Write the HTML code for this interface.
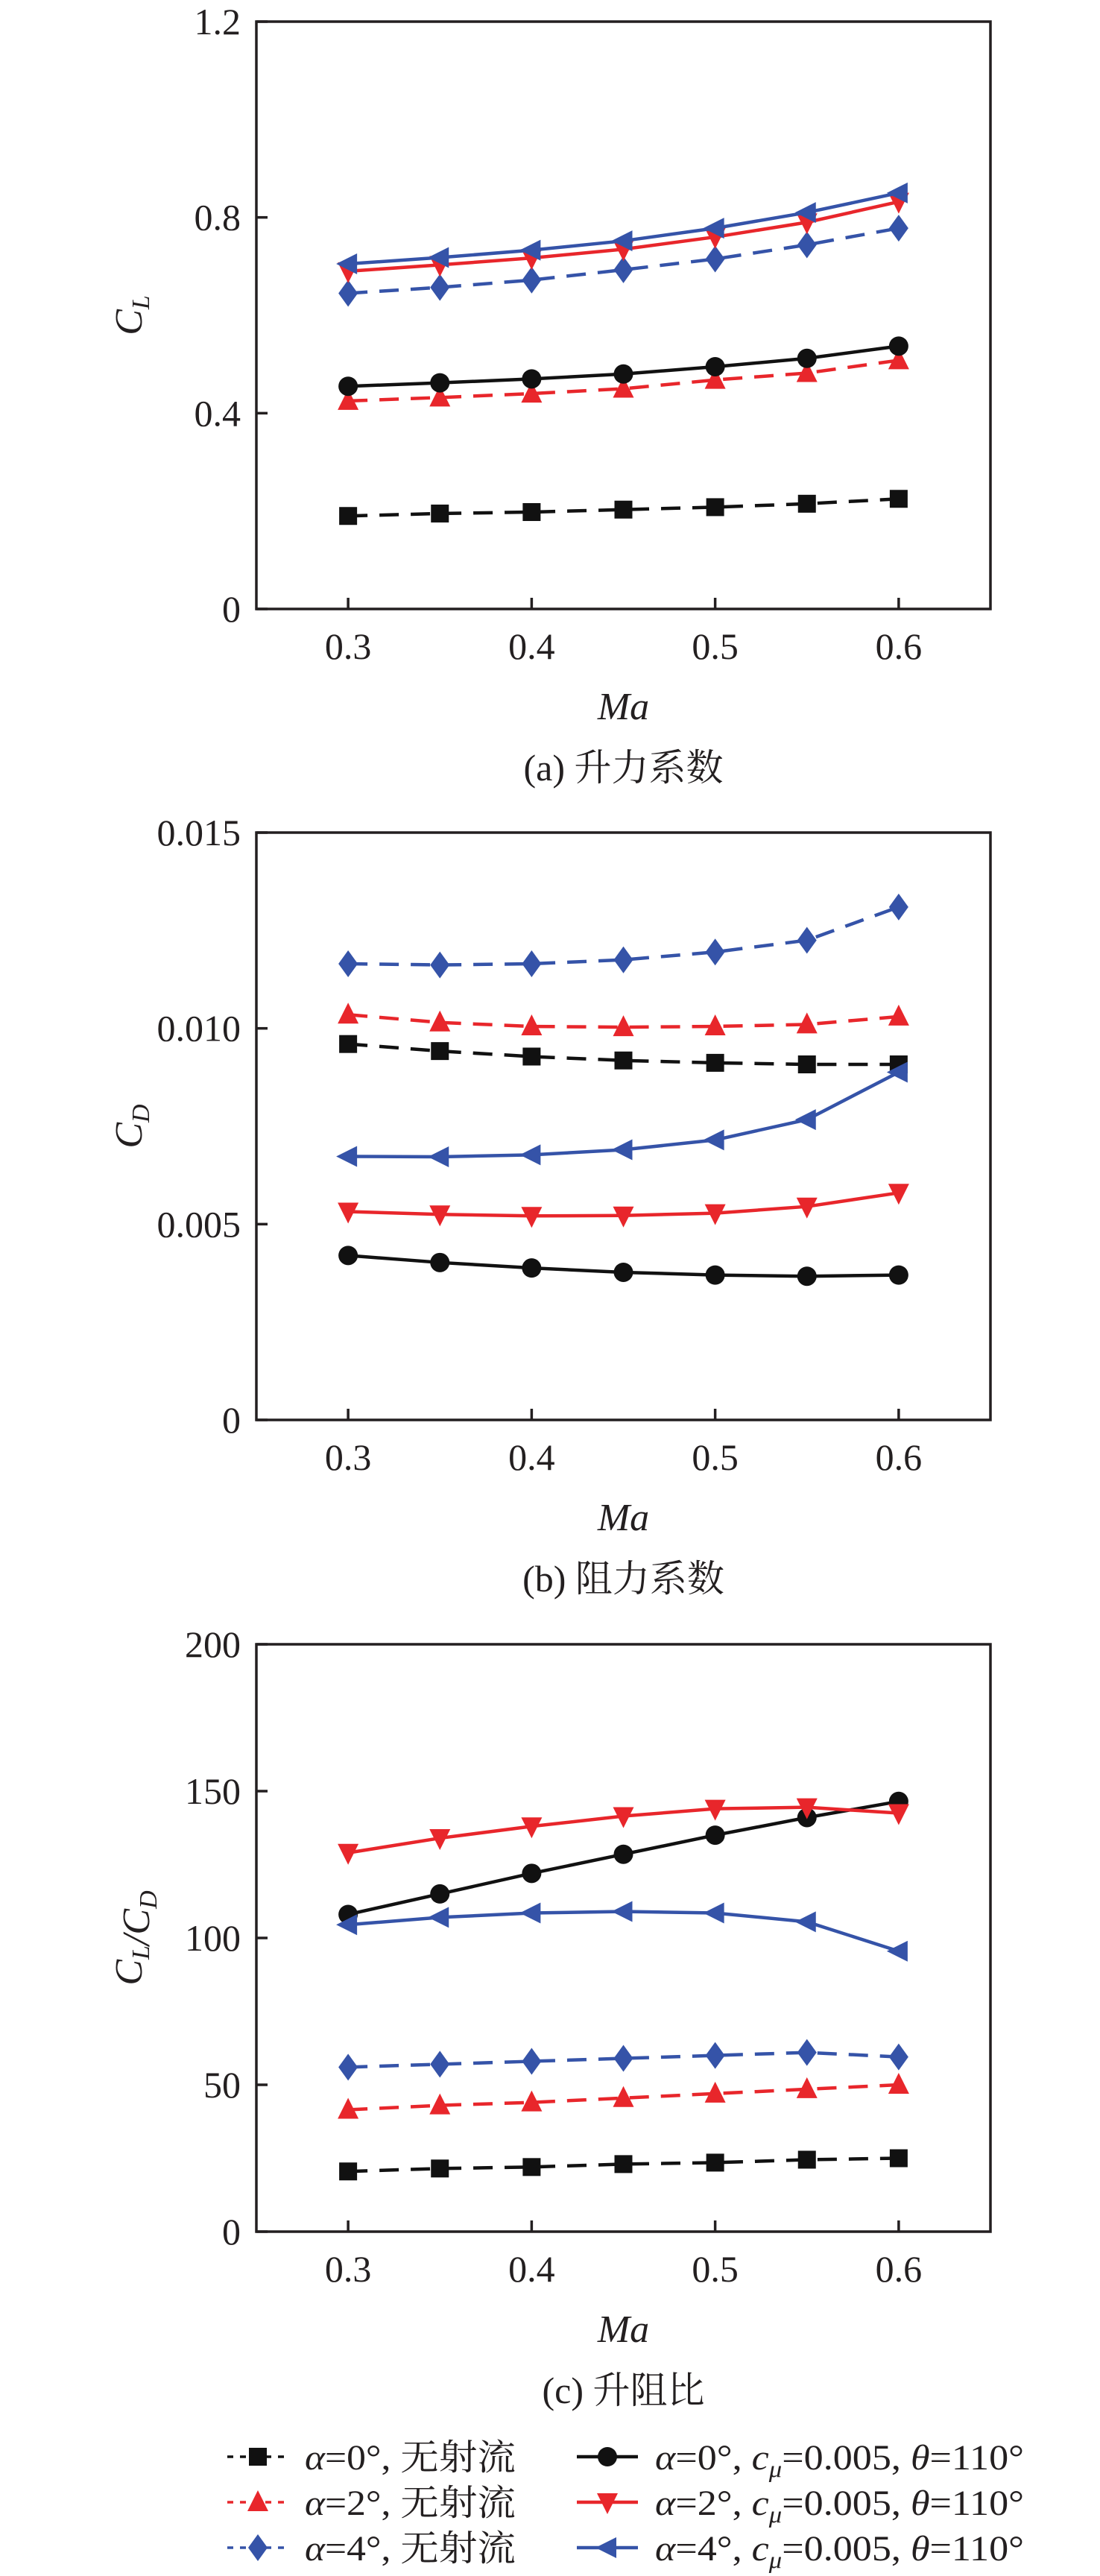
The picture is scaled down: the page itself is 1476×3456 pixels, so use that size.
<!DOCTYPE html>
<html><head><meta charset="utf-8">
<style>
html,body{margin:0;padding:0;background:#fff;}
svg{display:block;}
text{font-family:"Liberation Serif","Times New Roman","Noto Serif CJK SC",serif;fill:#231f20;}
</style></head>
<body>
<svg id="fig" width="1476" height="3456" viewBox="0 0 1476 3456" xmlns="http://www.w3.org/2000/svg"></svg>
<script>
const machNumbers = [0.3, 0.35, 0.4, 0.45, 0.5, 0.55, 0.6];
const xTickValues = [0.3, 0.4, 0.5, 0.6];

// (a) lift coefficient
const clNoJet0 = [0.19, 0.195, 0.198, 0.203, 0.208, 0.215, 0.225];
const clNoJet2 = [0.425, 0.432, 0.44, 0.45, 0.468, 0.482, 0.508];
const clNoJet4 = [0.645, 0.657, 0.672, 0.693, 0.715, 0.744, 0.778];
const clJet0 = [0.455, 0.462, 0.470, 0.480, 0.495, 0.512, 0.537];
const clJet2 = [0.69, 0.703, 0.717, 0.735, 0.76, 0.79, 0.832];
const clJet4 = [0.705, 0.718, 0.733, 0.752, 0.778, 0.81, 0.85];
const clTicks = [0, 0.4, 0.8, 1.2];
const clTickLabels = ["0", "0.4", "0.8", "1.2"];

// (b) drag coefficient
const cdNoJet0 = [0.0096, 0.00942, 0.00928, 0.00918, 0.00912, 0.00908, 0.00908];
const cdNoJet2 = [0.01035, 0.01015, 0.01005, 0.01003, 0.01005, 0.0101, 0.0103];
const cdNoJet4 = [0.01165, 0.01162, 0.01165, 0.01175, 0.01195, 0.01225, 0.0131];
const cdJet0 = [0.0042, 0.00402, 0.00388, 0.00377, 0.0037, 0.00367, 0.0037];
const cdJet2 = [0.00532, 0.00525, 0.00521, 0.00522, 0.00528, 0.00545, 0.0058];
const cdJet4 = [0.00673, 0.00672, 0.00677, 0.0069, 0.00715, 0.00767, 0.00888];
const cdTicks = [0, 0.005, 0.010, 0.015];
const cdTickLabels = ["0", "0.005", "0.010", "0.015"];

// (c) lift-drag ratio
const ldNoJet0 = [20.5, 21.5, 22, 23, 23.5, 24.5, 25];
const ldNoJet2 = [41.5, 43, 44, 45.5, 47, 48.5, 50];
const ldNoJet4 = [56, 57, 58, 59, 60, 61, 59.5];
const ldJet0 = [108, 115, 122, 128.5, 135, 141, 146.5];
const ldJet2 = [129, 134, 138, 141.5, 144, 144.5, 142.5];
const ldJet4 = [104.5, 107, 108.5, 109, 108.5, 105.5, 95.5];
const ldTicks = [0, 50, 100, 150, 200];
const ldTickLabels = ["0", "50", "100", "150", "200"];

const NS = "http://www.w3.org/2000/svg";
const svg = document.getElementById("fig");
const BLACK = "#111111", RED = "#e8262b", BLUE = "#3553a8";
const L = 344, R = 1329;
const X0 = 0.25, X1 = 0.65;

function mk(tag, attrs, parent) {
  const e = document.createElementNS(NS, tag);
  for (const k in attrs) e.setAttribute(k, attrs[k]);
  (parent || svg).appendChild(e);
  return e;
}
function xScale(v) { return L + (v - X0) / (X1 - X0) * (R - L); }

function marker(g, type, cx, cy, color) {
  let m;
  const s = 12;
  if (type === "square") m = mk("rect", {x: cx - s, y: cy - s, width: 2 * s, height: 2 * s, fill: color}, g);
  else if (type === "circle") m = mk("circle", {cx: cx, cy: cy, r: 13, fill: color}, g);
  else if (type === "up") m = mk("polygon", {points: `${cx},${cy - 16} ${cx - 14},${cy + 12} ${cx + 14},${cy + 12}`, fill: color}, g);
  else if (type === "down") m = mk("polygon", {points: `${cx},${cy + 16} ${cx - 14},${cy - 12} ${cx + 14},${cy - 12}`, fill: color}, g);
  else if (type === "diamond") m = mk("polygon", {points: `${cx},${cy - 18} ${cx + 13},${cy} ${cx},${cy + 18} ${cx - 13},${cy}`, fill: color}, g);
  else if (type === "left") m = mk("polygon", {points: `${cx - 16},${cy} ${cx + 12},${cy - 14} ${cx + 12},${cy + 14}`, fill: color}, g);
  
  
  return m;
}

function drawChart(cfg) {
  const T = cfg.top, B = cfg.top + 788;
  const yScale = v => B - (v - cfg.ymin) / (cfg.ymax - cfg.ymin) * (B - T);
  const g = mk("g", {});
  
  

  cfg.series.forEach(s => {
    const sg = mk("g", {}, g);
    
    
    const pts = machNumbers.map((m, i) => xScale(m) + "," + yScale(s.data[i])).join(" ");
    const line = mk("polyline", {points: pts, fill: "none", stroke: s.color, "stroke-width": 4.5,
      "stroke-dasharray": s.dashed ? "26 16" : "none"}, sg);
    
    
    machNumbers.forEach((m, i) => marker(sg, s.marker, xScale(m), yScale(s.data[i]), s.color));
  });

  const fr = mk("rect", {x: L, y: T, width: R - L, height: B - T, fill: "none", stroke: "#231f20", "stroke-width": 3.5}, g);
  
  

  cfg.yticks.forEach((v, i) => {
    const y = yScale(v);
    const t = mk("line", {x1: L, x2: L + 15, y1: y, y2: y, stroke: "#231f20", "stroke-width": 3.5}, g);
    
    
    const tx = mk("text", {x: 323, y: y + 17, "font-size": 50, "text-anchor": "end"}, g);
    tx.textContent = cfg.ylabels[i];
    
    
  });
  xTickValues.forEach(v => {
    const x = xScale(v);
    const t = mk("line", {x1: x, x2: x, y1: B, y2: B - 15, stroke: "#231f20", "stroke-width": 3.5}, g);
    
    
    const tx = mk("text", {x: x, y: B + 67, "font-size": 50, "text-anchor": "middle"}, g);
    tx.textContent = v.toFixed(1);
    
    
  });
  const xt = mk("text", {x: (L + R) / 2, y: B + 148, "font-size": 52, "font-style": "italic", "text-anchor": "middle"}, g);
  xt.textContent = "Ma";
  
  
  const cy = (T + B) / 2;
  const yt = mk("text", {x: 0, y: 0, "font-size": 52, "font-style": "italic", "text-anchor": "middle",
    transform: `translate(190 ${cy}) rotate(-90)`}, g);
  yt.innerHTML = cfg.ytitle;
  
  
  const cap = mk("text", {x: (L + R) / 2, y: B + 230, "font-size": 50, "text-anchor": "middle"}, g);
  cap.textContent = cfg.caption;
  
  
}

const sub = (t) => `<tspan font-size="34" dy="10">${t}</tspan><tspan dy="-10"></tspan>`;

drawChart({name: "lift-coefficient-chart", top: 29, ymin: 0, ymax: 1.2, yticks: clTicks, ylabels: clTickLabels,
  ytitle: "C" + sub("L"), caption: "(a) 升力系数",
  series: [
    {name: "cl-alpha0-no-jet", data: clNoJet0, color: BLACK, dashed: true, marker: "square"},
    {name: "cl-alpha2-no-jet", data: clNoJet2, color: RED, dashed: true, marker: "up"},
    {name: "cl-alpha4-no-jet", data: clNoJet4, color: BLUE, dashed: true, marker: "diamond"},
    {name: "cl-alpha0-jet", data: clJet0, color: BLACK, dashed: false, marker: "circle"},
    {name: "cl-alpha2-jet", data: clJet2, color: RED, dashed: false, marker: "down"},
    {name: "cl-alpha4-jet", data: clJet4, color: BLUE, dashed: false, marker: "left"}
  ]});
drawChart({name: "drag-coefficient-chart", top: 1117, ymin: 0, ymax: 0.015, yticks: cdTicks, ylabels: cdTickLabels,
  ytitle: "C" + sub("D"), caption: "(b) 阻力系数",
  series: [
    {name: "cd-alpha0-no-jet", data: cdNoJet0, color: BLACK, dashed: true, marker: "square"},
    {name: "cd-alpha2-no-jet", data: cdNoJet2, color: RED, dashed: true, marker: "up"},
    {name: "cd-alpha4-no-jet", data: cdNoJet4, color: BLUE, dashed: true, marker: "diamond"},
    {name: "cd-alpha0-jet", data: cdJet0, color: BLACK, dashed: false, marker: "circle"},
    {name: "cd-alpha2-jet", data: cdJet2, color: RED, dashed: false, marker: "down"},
    {name: "cd-alpha4-jet", data: cdJet4, color: BLUE, dashed: false, marker: "left"}
  ]});
drawChart({name: "lift-drag-ratio-chart", top: 2206, ymin: 0, ymax: 200, yticks: ldTicks, ylabels: ldTickLabels,
  ytitle: "C" + sub("L") + "/C" + sub("D"), caption: "(c) 升阻比",
  series: [
    {name: "ld-alpha0-no-jet", data: ldNoJet0, color: BLACK, dashed: true, marker: "square"},
    {name: "ld-alpha2-no-jet", data: ldNoJet2, color: RED, dashed: true, marker: "up"},
    {name: "ld-alpha4-no-jet", data: ldNoJet4, color: BLUE, dashed: true, marker: "diamond"},
    {name: "ld-alpha0-jet", data: ldJet0, color: BLACK, dashed: false, marker: "circle"},
    {name: "ld-alpha2-jet", data: ldJet2, color: RED, dashed: false, marker: "down"},
    {name: "ld-alpha4-jet", data: ldJet4, color: BLUE, dashed: false, marker: "left"}
  ]});

const legend = mk("g", {});


const legendRows = [3296, 3357, 3418];
const legendLeft = [
  {a: "0", color: BLACK, marker: "square"},
  {a: "2", color: RED, marker: "up"},
  {a: "4", color: BLUE, marker: "diamond"}
];
const legendRight = [
  {a: "0", color: BLACK, marker: "circle"},
  {a: "2", color: RED, marker: "down"},
  {a: "4", color: BLUE, marker: "left"}
];
legendLeft.forEach((e, i) => {
  const y = legendRows[i];
  const eg = mk("g", {}, legend);
  
  
  mk("line", {x1: 305, x2: 387, y1: y, y2: y, stroke: e.color, "stroke-width": 3.5, "stroke-dasharray": "8 9"}, eg);
  marker(eg, e.marker, 346, y, e.color);
  const t = mk("text", {x: 409, y: y + 17, "font-size": 48, textLength: 283, lengthAdjust: "spacingAndGlyphs"}, eg);
  t.innerHTML = `<tspan font-style="italic">α</tspan>=${e.a}°, 无射流`;
});
legendRight.forEach((e, i) => {
  const y = legendRows[i];
  const eg = mk("g", {}, legend);
  
  
  mk("line", {x1: 774, x2: 856, y1: y, y2: y, stroke: e.color, "stroke-width": 4.5}, eg);
  marker(eg, e.marker, 815, y, e.color);
  const t = mk("text", {x: 879, y: y + 17, "font-size": 48, textLength: 495, lengthAdjust: "spacingAndGlyphs"}, eg);
  t.innerHTML = `<tspan font-style="italic">α</tspan>=${e.a}°, <tspan font-style="italic">c</tspan><tspan font-style="italic" font-size="32" dy="10">μ</tspan><tspan dy="-10">=0.005, </tspan><tspan font-style="italic">θ</tspan>=110°`;
});
</script>
</body></html>
